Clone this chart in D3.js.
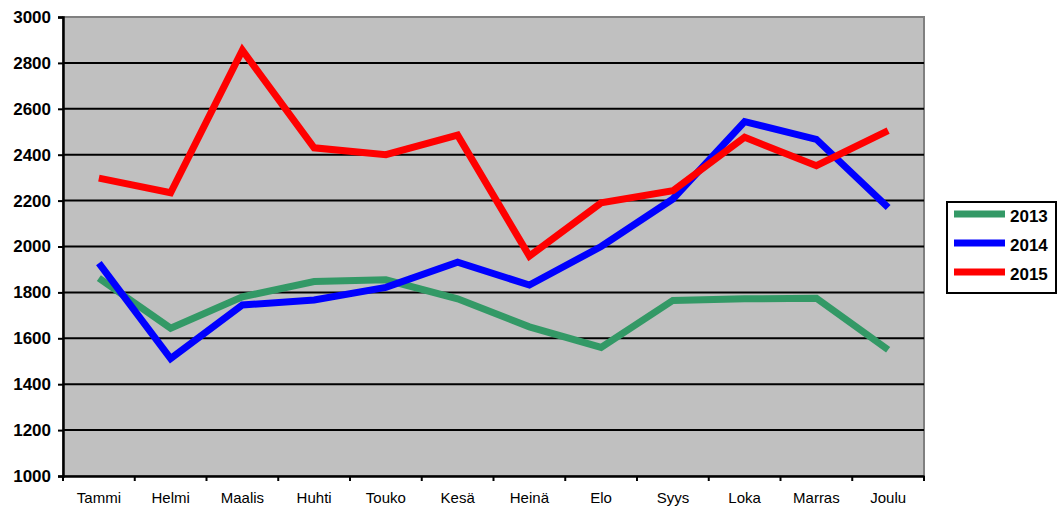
<!DOCTYPE html>
<html>
<head>
<meta charset="utf-8">
<script src="https://cdn.jsdelivr.net/npm/d3@7"></script>
<style>
  body { margin: 0; background: #fff; }
  text { font-family: "Liberation Sans", Arial, sans-serif; }
</style>
</head>
<body>
<div id="chart"></div>
<script>
var months = ["Tammi", "Helmi", "Maalis", "Huhti", "Touko", "Kesä", "Heinä", "Elo", "Syys", "Loka", "Marras", "Joulu"];
var yTicks = [1000, 1200, 1400, 1600, 1800, 2000, 2200, 2400, 2600, 2800, 3000];

var values2013 = [1862, 1644, 1781, 1847, 1855, 1772, 1650, 1560, 1765, 1772, 1775, 1550];
var values2014 = [1928, 1512, 1745, 1767, 1822, 1932, 1832, 2000, 2207, 2544, 2467, 2170];
var values2015 = [2298, 2234, 2855, 2430, 2400, 2485, 1958, 2190, 2243, 2476, 2352, 2505];

var seriesNames = ["2013", "2014", "2015"];
var seriesColors = ["#339966", "#0000ff", "#ff0000"];

var series = [values2013, values2014, values2015].map(function(v, i) {
  return { name: seriesNames[i], color: seriesColors[i], values: v };
});

var width = 1058, height = 508;
var margin = { left: 63, right: 134, top: 17, bottom: 32 };

var svg = d3.select("#chart").append("svg")
  .attr("width", width)
  .attr("height", height);

var x = d3.scaleBand()
  .domain(months)
  .range([margin.left, width - margin.right]);

var y = d3.scaleLinear()
  .domain([1000, 3000])
  .range([height - margin.bottom, margin.top]);

// plot background
svg.append("rect")
  .attr("x", margin.left)
  .attr("y", margin.top)
  .attr("width", width - margin.right - margin.left)
  .attr("height", height - margin.bottom - margin.top)
  .attr("fill", "#c0c0c0")
  .attr("stroke", "#808080")
  .attr("stroke-width", 2);

// gridlines
svg.append("g").selectAll("line")
  .data(yTicks.slice(1, -1))
  .enter().append("line")
  .attr("x1", margin.left)
  .attr("x2", width - margin.right)
  .attr("y1", function(d) { return y(d); })
  .attr("y2", function(d) { return y(d); })
  .attr("stroke", "#000")
  .attr("stroke-width", 2);

// y axis
var yAxis = svg.append("g")
  .attr("transform", "translate(" + margin.left + ",0)")
  .call(d3.axisLeft(y).tickValues(yTicks).tickSize(5).tickPadding(7).tickFormat(d3.format("d")));
yAxis.select(".domain").attr("stroke", "#000").attr("stroke-width", 2.5);
yAxis.selectAll(".tick line").attr("stroke", "#000").attr("stroke-width", 2);
yAxis.selectAll("text")
  .attr("font-size", 17)
  .attr("font-weight", "bold")
  .attr("fill", "#000");

// x axis
var xAxis = svg.append("g")
  .attr("transform", "translate(0," + (height - margin.bottom) + ")")
  .call(d3.axisBottom(x).tickSize(0).tickPadding(16));
xAxis.select(".domain").attr("stroke", "#000").attr("stroke-width", 2.5);
xAxis.selectAll("text").attr("font-size", 15).attr("fill", "#000");

// x ticks at band boundaries
svg.append("g").selectAll("line")
  .data(months)
  .enter().append("line")
  .attr("x1", function(d) { return x(d); })
  .attr("x2", function(d) { return x(d); })
  .attr("y1", height - margin.bottom)
  .attr("y2", height - margin.bottom + 5)
  .attr("stroke", "#000")
  .attr("stroke-width", 2);
svg.append("line")
  .attr("x1", width - margin.right).attr("x2", width - margin.right)
  .attr("y1", height - margin.bottom).attr("y2", height - margin.bottom + 5)
  .attr("stroke", "#000").attr("stroke-width", 2);

// lines
var line = d3.line()
  .x(function(d, i) { return x(months[i]) + x.bandwidth() / 2; })
  .y(function(d) { return y(d); });

svg.append("g").selectAll("path")
  .data(series)
  .enter().append("path")
  .attr("d", function(d) { return line(d.values); })
  .attr("fill", "none")
  .attr("stroke", function(d) { return d.color; })
  .attr("stroke-width", 7)
  .attr("stroke-linejoin", "miter");

// legend
var legend = svg.append("g").attr("transform", "translate(947,202)");
legend.append("rect")
  .attr("width", 109)
  .attr("height", 91)
  .attr("fill", "#fff")
  .attr("stroke", "#000")
  .attr("stroke-width", 2);
var item = legend.selectAll(".item")
  .data(series)
  .enter().append("g")
  .attr("transform", function(d, i) { return "translate(0," + (12 + i * 29) + ")"; });
item.append("line")
  .attr("x1", 7).attr("x2", 58)
  .attr("stroke", function(d) { return d.color; })
  .attr("stroke-width", 7);
item.append("text")
  .attr("x", 63)
  .attr("y", 8)
  .attr("font-size", 17)
  .attr("font-weight", "bold")
  .text(function(d) { return d.name; });
</script>
</body>
</html>
